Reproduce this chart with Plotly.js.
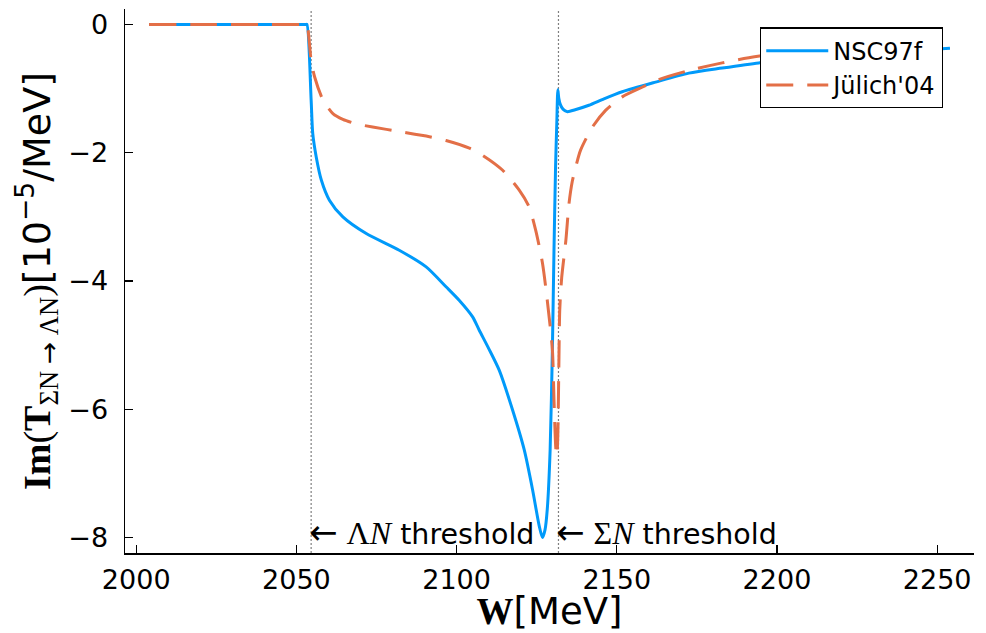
<!DOCTYPE html>
<html>
<head>
<meta charset="utf-8">
<script src="https://cdn.plot.ly/plotly-3.0.1.min.js"></script>
<style>html,body{margin:0;padding:0;background:#fff;}#chart{width:986px;height:633px;}</style>
</head>
<body>
<div id="chart"></div>
<script>
// Energy W [MeV] and Im(T) [10^-5 / MeV]
const W_nsc = [2004, 2020, 2040, 2053.0, 2053.3, 2054.6, 2055.1, 2056.2, 2057.8, 2060.3, 2064.5, 2071.8, 2082.1, 2090.5, 2096.7, 2100.8, 2105, 2107, 2110, 2113.3, 2117.4, 2121.1, 2123.7, 2125.8, 2126.8, 2127.6, 2128.3, 2129.2, 2129.9, 2130.4, 2130.9, 2131.3, 2131.6, 2131.9, 2132.4, 2133.2, 2134.6, 2137, 2141.3, 2146, 2151.7, 2162.1, 2172.5, 2182.9, 2194.3, 2205, 2215, 2225, 2235, 2245, 2254];
const v_nsc = [0, 0, 0, 0, 0, -1.18, -1.7, -2.07, -2.43, -2.74, -3.0, -3.26, -3.52, -3.78, -4.09, -4.3, -4.56, -4.76, -5.05, -5.39, -6.0, -6.63, -7.25, -7.82, -8.0, -7.88, -7.56, -6.63, -5.07, -3.52, -2.2, -1.5, -1.02, -1.15, -1.25, -1.32, -1.36, -1.33, -1.26, -1.16, -1.05, -0.9, -0.76, -0.68, -0.6, -0.55, -0.5, -0.46, -0.43, -0.4, -0.37];

const W_jul = [2004, 2020, 2040, 2053.0, 2053.3, 2054.6, 2055.7, 2058.3, 2061.4, 2064.5, 2068.7, 2073.8, 2082.1, 2091.5, 2096.7, 2104, 2108.1, 2114.3, 2119.5, 2122.6, 2124.7, 2126.8, 2128.3, 2129.9, 2130.4, 2131.0, 2131.3, 2131.6, 2131.9, 2132.2, 2132.8, 2134.1, 2135.1, 2136.1, 2137.2, 2138.7, 2142.4, 2146.5, 2151.7, 2157.9, 2163.1, 2172.5, 2182.9, 2193.5, 2205, 2215, 2225, 2235, 2250];
const v_jul = [0, 0, 0, 0, 0, -0.56, -0.82, -1.18, -1.39, -1.48, -1.55, -1.6, -1.67, -1.75, -1.81, -1.93, -2.04, -2.27, -2.58, -2.84, -3.21, -3.72, -4.3, -5.07, -5.85, -6.63, -6.73, -6.4, -5.4, -4.45, -3.95, -3.37, -2.79, -2.45, -2.22, -1.96, -1.6, -1.34, -1.13, -0.98, -0.86, -0.72, -0.6, -0.5, -0.45, -0.42, -0.4, -0.38, -0.36];

const seriesNames = ["NSC97f", "Jülich'04"];
const thresholds = [2054.6, 2131.8];
const thresholdLabels = ["ΛN", "ΣN"];
const xTicks = [2000, 2050, 2100, 2150, 2200, 2250];
const yTicks = [0, -2, -4, -6, -8];
const yTickText = ["0", "−2", "−4", "−6", "−8"];

const SANS = "'DejaVu Sans', sans-serif";

const traces = [
  {x: W_nsc, y: v_nsc, name: seriesNames[0], type: 'scatter', mode: 'lines',
   line: {color: '#009AFA', width: 3, shape: 'spline', smoothing: 0.7}},
  {x: W_jul, y: v_jul, name: seriesNames[1], type: 'scatter', mode: 'lines',
   line: {color: '#E36F47', width: 3, dash: '27px,14px', shape: 'spline', smoothing: 0.7}}
];

const shapes = thresholds.map(t => ({
  type: 'line', xref: 'x', yref: 'paper', x0: t, x1: t, y0: 0, y1: 1,
  line: {color: '#7f7f7f', width: 1.2, dash: '2px,2px'}, layer: 'below'
}));

const annotations = thresholds.map((t, i) => ({
  x: t, y: -7.91, xref: 'x', yref: 'y', xanchor: 'left', yanchor: 'middle',
  showarrow: false, xshift: -4,
  text: '<span style="font-size:34px">←</span> <span style="font-family:Liberation Serif;font-size:32px">' +
        thresholdLabels[i][0] + '<i>' + thresholdLabels[i][1] + '</i></span> threshold',
  font: {family: SANS, size: 28.5, color: '#000'}
}));

const yTitle = '<span style="font-family:Liberation Serif"><b>Im</b>(<b>T</b><sub>ΣN <span style="font-family:DejaVu Sans">→</span> ΛN</sub>)</span>[10<sup>−5</sup>/MeV]\u00A0\u00A0\u2009';
const xTitle = '<span style="font-family:Liberation Serif"><b>W</b></span>[MeV]';

const layout = {
  width: 986, height: 633,
  margin: {l: 125, r: 12, t: 9, b: 80},
  paper_bgcolor: '#fff', plot_bgcolor: '#fff',
  font: {family: SANS, color: '#000'},
  showlegend: true,
  legend: {
    x: 0.748, y: 0.966, xanchor: 'left', yanchor: 'top',
    bgcolor: '#fff', bordercolor: '#000', borderwidth: 1.2,
    font: {family: SANS, size: 24, color: '#000'},
    itemwidth: 62, tracegroupgap: 0
  },
  xaxis: {
    range: [1996.5, 2261.5], tickvals: xTicks, ticktext: xTicks.map(String),
    ticks: 'inside', ticklen: 8, tickwidth: 1.2, tickcolor: '#000',
    showline: true, linecolor: '#000', linewidth: 1.5, mirror: false,
    showgrid: false, zeroline: false,
    tickfont: {family: SANS, size: 27, color: '#000'},
    ticklabelstandoff: 2,
    title: {text: xTitle, font: {family: SANS, size: 37, color: '#000'}, standoff: 6}
  },
  yaxis: {
    range: [-8.24, 0.24], tickvals: yTicks, ticktext: yTickText,
    ticks: 'inside', ticklen: 8, tickwidth: 1.2, tickcolor: '#000',
    showline: true, linecolor: '#000', linewidth: 1.5, mirror: false,
    showgrid: false, zeroline: false,
    tickfont: {family: SANS, size: 27, color: '#000'},
    ticklabelstandoff: 10,
    title: {text: yTitle, font: {family: SANS, size: 38, color: '#000'}, standoff: 6}
  },
  shapes: shapes,
  annotations: annotations
};

Plotly.newPlot('chart', traces, layout, {displayModeBar: false, staticPlot: true});
</script>
</body>
</html>
